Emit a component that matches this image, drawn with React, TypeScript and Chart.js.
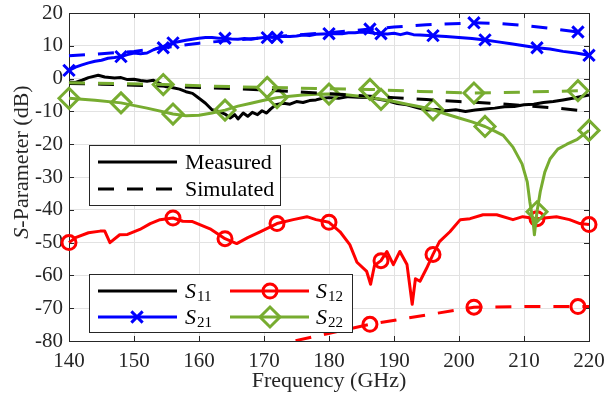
import React, { useEffect, useRef } from 'react';
import { Chart, registerables } from 'chart.js';

Chart.register(...registerables);

// ---------- axes ----------
const xTicks = [140, 150, 160, 170, 180, 190, 200, 210, 220];
const yTicks = [-80, -70, -60, -50, -40, -30, -20, -10, 0, 10, 20];

// ---------- measured S11 ----------
const s11MeasFreq = [140, 141, 142, 143, 144.5, 145.5, 147, 148, 149, 150, 151, 152, 153, 154, 155, 156, 157, 158, 159, 160, 161, 162, 162.7, 163.3, 164, 164.8, 165.5, 166, 166.8, 167.5, 168.2, 169, 169.7, 170.4, 171, 171.8, 173, 174, 175, 176, 177, 178, 179, 180, 181.5, 183, 184.5, 186, 187.5, 189, 190.5, 192, 193.5, 195, 196.5, 198, 199.5, 201, 202.5, 204, 205.5, 207, 208.5, 210, 211.5, 213, 214.5, 216, 217.5, 219, 220];
const s11MeasDb = [-1.0, -1.2, -0.5, 0.3, 1.0, 0.5, 0.2, 0.3, -0.3, -0.2, -0.6, -0.8, -0.5, -1.5, -2.5, -2.8, -3.2, -4.0, -4.5, -6.0, -7.5, -9.5, -9.8, -10.2, -10.8, -12.0, -11.0, -12.3, -10.5, -11.5, -10.3, -11.0, -9.8, -10.5, -9.3, -8.0, -7.5, -7.8, -7.0, -7.3, -6.7, -6.5, -6.0, -5.8, -6.0, -5.5, -5.7, -5.8, -6.2, -6.8, -7.6, -8.0, -8.8, -9.6, -9.4, -9.8, -9.5, -10.0, -9.6, -9.3, -9.0, -8.6, -8.5, -8.0, -7.8, -7.3, -7.0, -6.5, -6.0, -5.4, -5.0];

// ---------- measured S21 ----------
const s21MeasFreq = [140, 141, 142, 143, 144, 145, 146, 147, 148, 149, 150, 151, 152, 153, 154, 155, 156, 157, 158, 159, 160, 161, 162, 163, 164, 165, 166, 167, 168, 169, 170, 171, 172, 173, 174, 175, 176, 177, 178, 179, 180, 182, 183, 184, 185, 186, 187, 188, 189, 190, 191, 192, 193, 194, 196, 198, 200, 202, 204, 206, 208, 210, 212, 214, 216, 218, 220];
const s21MeasDb = [2.5, 3.5, 4.2, 4.8, 5.3, 5.6, 6.2, 6.4, 6.7, 7.3, 7.8, 7.6, 7.8, 8.8, 9.5, 10.1, 10.9, 11.3, 11.7, 12.0, 12.3, 12.5, 12.5, 12.3, 12.3, 12.1, 12.0, 12.2, 12.0, 12.3, 12.5, 12.7, 12.6, 12.9, 12.8, 13.0, 13.3, 13.1, 13.5, 13.6, 13.7, 13.7, 14.0, 14.0, 14.2, 14.1, 13.8, 13.7, 13.6, 13.8, 13.4, 13.9, 13.4, 13.3, 13.1, 12.8, 12.5, 12.2, 11.8, 11.2, 10.6, 10.0, 9.4, 9.0, 8.3, 7.8, 7.1];

// ---------- measured S12 ----------
const s12MeasFreq = [140, 141, 143, 144.8, 145.5, 146.3, 147.8, 149, 150.9, 152.5, 154, 156, 157.5, 159, 161.7, 164, 165.8, 167.5, 169.4, 172, 174.5, 176.6, 178, 180, 181.7, 183.2, 184.3, 185.8, 186.4, 187, 188, 188.9, 189.9, 190.9, 192, 192.8, 193.3, 194, 195, 196, 197, 198.6, 200.2, 201.7, 203.7, 205.8, 208.3, 209.8, 212, 215, 217, 218.6, 220];
const s12MeasDb = [-50, -48.5, -47, -46.5, -46.5, -50, -47.6, -47.5, -46, -44.2, -43, -42.5, -43.5, -43.6, -45.8, -48.8, -50.3, -48.5, -46.7, -44.2, -43, -42.1, -43, -43.8, -46.7, -50.6, -56, -58.8, -62.7, -57, -55.5, -52.7, -56.7, -52.7, -56.7, -68.8, -61, -61.8, -57.9, -53.6, -49.7, -46.7, -43, -42.7, -41.5, -41.5, -43, -42.1, -42.7, -42.1, -43, -44.2, -44.5];

// ---------- measured S22 ----------
const s22MeasFreq = [140, 144, 148, 152, 156, 158, 160, 162, 164, 166, 168, 170, 172, 174, 176, 178, 180, 182, 184, 186, 188, 190, 192, 194, 196, 198, 200, 202, 204, 205.5, 206.8, 208.3, 209.7, 210.5, 210.9, 211.4, 211.6, 212, 212.5, 213.2, 214, 215.2, 216.6, 218.2, 220];
const s22MeasDb = [-6.0, -6.6, -7.4, -9.0, -10.8, -11.3, -11.2, -10.5, -9.6, -8.4, -7.5, -6.6, -5.8, -5.4, -5.0, -4.8, -4.7, -4.8, -5.2, -5.6, -6.3, -7.0, -7.8, -8.6, -9.5, -10.8, -12.0, -13.2, -14.6, -16.0, -17.3, -20.9, -26.0, -31.5, -37.6, -43.6, -47.6, -40.6, -34.5, -28.5, -24.5, -21.5, -20.0, -18.5, -15.8];

// ---------- simulated ----------
const s11SimFreq = [140, 145, 150, 155, 160, 165, 170, 175, 180, 185, 190, 195, 200, 205, 210, 215, 220];
const s11SimDb = [-1.5, -1.7, -2.0, -2.3, -2.7, -3.0, -3.5, -4.0, -4.6, -5.2, -5.8, -6.4, -7.0, -7.5, -8.2, -9.0, -10.0];

const s21SimFreq = [140, 145, 150, 154.5, 160, 165, 170.5, 175, 180, 186.3, 190, 195, 202.3, 206, 210, 214, 218.3, 220];
const s21SimDb = [7.0, 7.6, 8.3, 9.4, 10.8, 11.7, 12.5, 13.3, 14.0, 15.1, 15.7, 16.4, 17.0, 16.8, 16.2, 15.3, 14.2, 13.6];

const s12SimFreq = [170.5, 186.3, 202.3, 210, 218.3, 220];
const s12SimDb = [-81.8, -74.9, -69.7, -69.5, -69.5, -69.5];

const s22SimFreq = [140, 147, 154.5, 162, 170.5, 178, 186.3, 194, 202.3, 210, 218.3, 220];
const s22SimDb = [-1.3, -1.5, -1.8, -2.3, -2.7, -3.0, -3.3, -3.9, -4.4, -4.1, -3.7, -3.5];

// ---------- marker positions ----------
const measMarkerFreqs = [140, 148, 156, 164, 172, 180, 188, 196, 204, 212, 220];
const simMarkerFreqs = [154.5, 170.5, 186.3, 202.3, 218.3];
const s12SimMarkerFreqs = [186.3, 202.3, 218.3];

// ---------- style ----------
const BLACK = '#000000';
const BLUE = '#0000ff';
const RED = '#ff0000';
const GREEN = '#77ac30';
const AXIS = '#262626';
const GRID = '#e2e2e2';
const FONT = '"Liberation Serif", "Times New Roman", serif';
const DASH = [16, 13];
const MARKER_R: Record<string, number> = { crossRot: 8, circle: 7, rectRot: 10 };

function series(freqs: number[], vals: number[], color: string, dashed: boolean, style: string | null, markers: number[]) {
  const r = style ? MARKER_R[style] : 0;
  return {
    data: freqs.map((f, i) => ({ x: f, y: vals[i] })),
    borderColor: color,
    backgroundColor: 'rgba(0,0,0,0)',
    borderWidth: 3,
    borderDash: dashed ? DASH : [],
    borderJoinStyle: 'round',
    borderCapStyle: 'butt',
    pointStyle: style || 'circle',
    pointRadius: freqs.map((f) => (style && markers.includes(f) ? r : 0)),
    pointHoverRadius: 0,
    pointBorderWidth: 3,
    pointBorderColor: color,
    pointBackgroundColor: 'rgba(0,0,0,0)',
    tension: 0,
    fill: false,
    clip: { left: 20, right: 20, top: 20, bottom: 0 },
  };
}

function drawMarker(ctx: CanvasRenderingContext2D, style: string, x: number, y: number, color: string) {
  const r = MARKER_R[style];
  ctx.save();
  ctx.setLineDash([]);
  ctx.strokeStyle = color;
  ctx.lineWidth = 3;
  ctx.beginPath();
  if (style === 'circle') {
    ctx.arc(x, y, r, 0, Math.PI * 2);
  } else if (style === 'rectRot') {
    ctx.moveTo(x - r, y);
    ctx.lineTo(x, y - r);
    ctx.lineTo(x + r, y);
    ctx.lineTo(x, y + r);
    ctx.closePath();
  } else {
    const d = r * Math.SQRT1_2;
    ctx.moveTo(x - d, y - d);
    ctx.lineTo(x + d, y + d);
    ctx.moveTo(x + d, y - d);
    ctx.lineTo(x - d, y + d);
  }
  ctx.stroke();
  ctx.restore();
}

function legendLine(ctx: CanvasRenderingContext2D, x0: number, x1: number, y: number, color: string, dashed: boolean) {
  ctx.save();
  ctx.strokeStyle = color;
  ctx.lineWidth = 3;
  ctx.lineCap = 'butt';
  ctx.setLineDash(dashed ? DASH : []);
  ctx.beginPath();
  ctx.moveTo(x0, y);
  ctx.lineTo(x1, y);
  ctx.stroke();
  ctx.restore();
}

function sLabel(ctx: CanvasRenderingContext2D, x: number, y: number, sub: string) {
  ctx.save();
  ctx.fillStyle = '#000';
  ctx.textBaseline = 'alphabetic';
  ctx.textAlign = 'left';
  ctx.font = `italic 22px ${FONT}`;
  ctx.fillText('S', x, y);
  const w = ctx.measureText('S').width;
  ctx.font = `15px ${FONT}`;
  ctx.fillText(sub, x + w + 1, y + 3);
  ctx.restore();
}

const frame = {
  id: 'matlabFrame',
  beforeDatasetsDraw(chart: any) {
    const { ctx, chartArea: a, scales } = chart;
    ctx.save();
    ctx.strokeStyle = AXIS;
    ctx.lineWidth = 1;
    ctx.strokeRect(Math.round(a.left) + 0.5, Math.round(a.top) + 0.5, Math.round(a.right - a.left), Math.round(a.bottom - a.top));
    ctx.beginPath();
    for (const v of xTicks) {
      const px = Math.round(scales.x.getPixelForValue(v)) + 0.5;
      ctx.moveTo(px, a.bottom);
      ctx.lineTo(px, a.bottom - 5);
      ctx.moveTo(px, a.top);
      ctx.lineTo(px, a.top + 5);
    }
    for (const v of yTicks) {
      const py = Math.round(scales.y.getPixelForValue(v)) + 0.5;
      ctx.moveTo(a.left, py);
      ctx.lineTo(a.left + 5, py);
      ctx.moveTo(a.right, py);
      ctx.lineTo(a.right - 5, py);
    }
    ctx.stroke();
    ctx.restore();
  },
  afterDraw(chart: any) {
    const { ctx, chartArea: a } = chart;
    ctx.save();
    // axis titles
    ctx.fillStyle = AXIS;
    ctx.font = `22px ${FONT}`;
    ctx.textAlign = 'center';
    ctx.textBaseline = 'alphabetic';
    ctx.fillText('Frequency (GHz)', (a.left + a.right) / 2, 387);

    ctx.save();
    ctx.translate(28, 162);
    ctx.rotate(-Math.PI / 2);
    ctx.textAlign = 'left';
    ctx.font = `italic 22px ${FONT}`;
    const wS = ctx.measureText('S').width;
    ctx.font = `22px ${FONT}`;
    const rest = '-Parameter (dB)';
    const wR = ctx.measureText(rest).width;
    const start = -(wS + wR) / 2;
    ctx.font = `italic 22px ${FONT}`;
    ctx.fillText('S', start, 0);
    ctx.font = `22px ${FONT}`;
    ctx.fillText(rest, start + wS, 0);
    ctx.restore();

    // legend 1
    ctx.fillStyle = '#fff';
    ctx.fillRect(89, 145, 192, 61);
    ctx.strokeStyle = AXIS;
    ctx.lineWidth = 1;
    ctx.strokeRect(89.5, 145.5, 191, 60);
    legendLine(ctx, 98, 177, 162, BLACK, false);
    legendLine(ctx, 98, 177, 189, BLACK, true);
    ctx.fillStyle = '#000';
    ctx.font = `22px ${FONT}`;
    ctx.textAlign = 'left';
    ctx.fillText('Measured', 185, 169);
    ctx.fillText('Simulated', 185, 196);

    // legend 2
    ctx.fillStyle = '#fff';
    ctx.fillRect(89, 274, 264, 59);
    ctx.strokeStyle = AXIS;
    ctx.lineWidth = 1;
    ctx.strokeRect(89.5, 274.5, 263, 58);
    legendLine(ctx, 98, 177, 291, BLACK, false);
    legendLine(ctx, 98, 177, 317, BLUE, false);
    drawMarker(ctx, 'crossRot', 137, 317, BLUE);
    legendLine(ctx, 230, 309, 291, RED, false);
    drawMarker(ctx, 'circle', 270, 291, RED);
    legendLine(ctx, 230, 309, 317, GREEN, false);
    drawMarker(ctx, 'rectRot', 270, 317, GREEN);
    sLabel(ctx, 185, 298, '11');
    sLabel(ctx, 185, 324, '21');
    sLabel(ctx, 316, 298, '12');
    sLabel(ctx, 316, 324, '22');
    ctx.restore();
  },
};

export default function App() {
  const ref = useRef<HTMLCanvasElement | null>(null);

  useEffect(() => {
    if (!ref.current) return;
    const datasets: any[] = [
      series(s12SimFreq, s12SimDb, RED, true, 'circle', s12SimMarkerFreqs),
      series(s22SimFreq, s22SimDb, GREEN, true, 'rectRot', simMarkerFreqs),
      series(s21SimFreq, s21SimDb, BLUE, true, 'crossRot', simMarkerFreqs),
      series(s11SimFreq, s11SimDb, BLACK, true, null, []),
      series(s22MeasFreq, s22MeasDb, GREEN, false, 'rectRot', measMarkerFreqs),
      series(s12MeasFreq, s12MeasDb, RED, false, 'circle', measMarkerFreqs),
      series(s21MeasFreq, s21MeasDb, BLUE, false, 'crossRot', measMarkerFreqs),
      series(s11MeasFreq, s11MeasDb, BLACK, false, null, []),
    ];
    const tickFont = { family: FONT, size: 21 };
    const chart = new Chart(ref.current, {
      type: 'line',
      data: { datasets },
      plugins: [frame],
      options: {
        responsive: false,
        devicePixelRatio: 1,
        animation: false,
        events: [],
        layout: { padding: { left: 0, right: 16, top: 10, bottom: 0 } },
        plugins: { legend: { display: false }, tooltip: { enabled: false } },
        scales: {
          x: {
            type: 'linear',
            min: 140,
            max: 220,
            afterBuildTicks: (s: any) => {
              s.ticks = xTicks.map((v) => ({ value: v }));
            },
            afterFit: (s: any) => {
              s.height = 57;
              s.paddingLeft = 0;
              s.paddingRight = 0;
            },
            grid: { color: GRID, lineWidth: 1, drawTicks: false },
            border: { display: false },
            ticks: { font: tickFont, color: AXIS, padding: 8, maxRotation: 0, autoSkip: false },
          },
          y: {
            type: 'linear',
            min: -80,
            max: 20,
            afterBuildTicks: (s: any) => {
              s.ticks = yTicks.map((v) => ({ value: v }));
            },
            afterFit: (s: any) => {
              s.width = 69;
              s.paddingTop = 0;
              s.paddingBottom = 0;
            },
            grid: { color: GRID, lineWidth: 1, drawTicks: false },
            border: { display: false },
            ticks: { font: tickFont, color: AXIS, padding: 6, autoSkip: false },
          },
        },
      } as any,
    });
    return () => chart.destroy();
  }, []);

  return (
    <div style={{ position: 'absolute', left: 0, top: 0, width: 605, height: 398, background: '#fff' }}>
      <canvas ref={ref} width={605} height={398} style={{ display: 'block', width: 605, height: 398 }} />
    </div>
  );
}
